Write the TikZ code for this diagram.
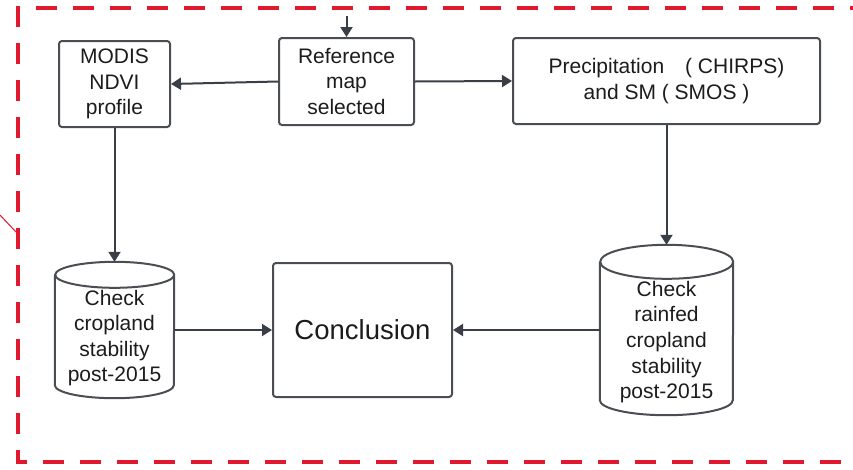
\documentclass[tikz,border=0pt]{standalone}
\usepackage{fontspec}
\setmainfont{Liberation Sans}
\usetikzlibrary{arrows.meta}
\definecolor{boxline}{HTML}{4A4D52}
\definecolor{arrowc}{HTML}{3A3F47}
\definecolor{redd}{HTML}{E0192F}
\definecolor{txtc}{HTML}{1C1C1C}
\begin{document}
\begin{tikzpicture}[x=1pt,y=-1pt,
  box/.style={draw=boxline, line width=2pt, rounded corners=3pt, fill=white, align=center, inner sep=0pt, text=txtc, font=\fontsize{21}{25.6}\selectfont},
  cyl/.style={draw=none, inner sep=0pt},
  txt/.style={align=center, inner sep=0pt, text=txtc, font=\fontsize{21}{25.6}\selectfont},
  cylline/.style={draw=boxline, line width=2pt, fill=white},
  arr/.style={draw=arrowc, line width=2pt, -{Triangle[length=10pt,width=12pt]}}]
\useasboundingbox (0,0) rectangle (853,469);
\begin{scope}
  \clip (0,0) rectangle (853,469);
  \draw[redd, line width=4pt, dash pattern=on 21pt off 16pt, dash phase=8pt] (900,8) -- (18,8) -- (18,462) -- (900,462);
  \draw[redd, line width=1pt] (0,215) -- (16,232);
\end{scope}
% boxes
\node[box, minimum width=111pt, minimum height=86pt] (modis) at (114.5,84) {MODIS\\NDVI\\profile};
\node[box, minimum width=135pt, minimum height=87pt] (ref) at (346.5,81.5) {Reference\\map\\selected};
\node[box, minimum width=307pt, minimum height=86pt] (prec) at (666.5,81) {Precipitation\quad( CHIRPS)\\and SM ( SMOS )};
\node[box, minimum width=179pt, minimum height=134pt, font=\fontsize{27.5}{32}\selectfont] (conc) at (362.5,330) {Conclusion};
% cylinders
\node[cyl, minimum width=119pt, minimum height=136pt] (cylA) at (114.5,330) {};
\draw[cylline] ([yshift=-13pt]cylA.north west) -- ([yshift=13pt]cylA.south west)
  arc[start angle=180, end angle=360, x radius=59.5pt, y radius=13pt]
  -- ([yshift=-13pt]cylA.north east)
  arc[start angle=0, end angle=360, x radius=59.5pt, y radius=13pt];
\node[txt] (cylAt) at ([yshift=-8pt]cylA.center) {Check\\cropland\\stability\\post-2015};
\node[cyl, minimum width=133pt, minimum height=170pt] (cylB) at (666.5,330) {};
\draw[cylline] ([yshift=-17pt]cylB.north west) -- ([yshift=15pt]cylB.south west)
  arc[start angle=180, end angle=360, x radius=66.5pt, y radius=15pt]
  -- ([yshift=-17pt]cylB.north east)
  arc[start angle=0, end angle=360, x radius=66.5pt, y radius=17pt];
\node[txt] (cylBt) at ([yshift=-12pt]cylB.center) {Check\\rainfed\\cropland\\stability\\post-2015};
% arrows
\coordinate (entry) at (346.5,16);
\draw[arr] (entry) -- (ref.north);
\draw[arr] (ref.west) -- (modis.east);
\draw[arr] (ref.east) -- (prec.west);
\draw[arr] (modis.south) -- (cylA.north);
\draw[arr] (prec.south) -- (cylB.north);
\draw[arr] (cylA.east) -- (conc.west);
\draw[arr] (cylB.west) -- (conc.east);
\end{tikzpicture}
\end{document}
